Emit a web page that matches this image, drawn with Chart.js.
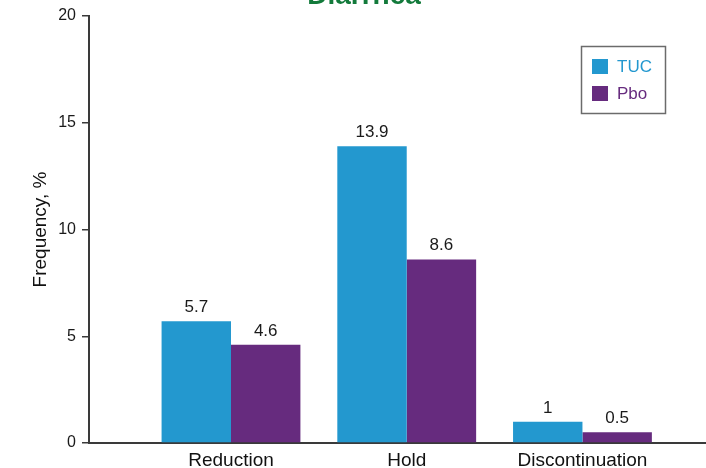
<!DOCTYPE html>
<html>
<head>
<meta charset="utf-8">
<script src="https://cdn.jsdelivr.net/npm/chart.js@4/dist/chart.umd.min.js"></script>
<style>
  html, body { margin: 0; padding: 0; background: #ffffff; }
  #wrap { width: 706px; height: 468px; position: relative; }
</style>
</head>
<body>
<div id="wrap"><canvas id="c" width="706" height="468"></canvas></div>
<script>
const chartTitle = 'Diarrhea';
const categories = ['Reduction', 'Hold', 'Discontinuation'];
const tucValues = [5.7, 13.9, 1];
const pboValues = [4.6, 8.6, 0.5];
const valueLabels = [['5.7', '13.9', '1'], ['4.6', '8.6', '0.5']];
const yTicks = [0, 5, 10, 15, 20];
const seriesNames = ['TUC', 'Pbo'];
const seriesColors = ['#2398cf', '#662b7e'];

const FONT = "'Liberation Sans', Arial, Helvetica, sans-serif";

const toXY = vals => vals.map((v, i) => ({ x: i, y: v }));

const overlayPlugin = {
  id: 'overlay',
  afterDatasetsDraw(chart) {
    const ctx = chart.ctx;
    ctx.save();
    // value labels
    ctx.font = '17px ' + FONT;
    ctx.fillStyle = '#1a1a1a';
    ctx.textAlign = 'center';
    ctx.textBaseline = 'alphabetic';
    chart.data.datasets.forEach((ds, di) => {
      const meta = chart.getDatasetMeta(di);
      meta.data.forEach((bar, i) => {
        ctx.fillText(valueLabels[di][i], bar.x, bar.y - 9);
      });
    });
    // title (cut at top)
    ctx.font = 'bold 28px ' + FONT;
    ctx.fillStyle = '#137a3b';
    ctx.textAlign = 'center';
    ctx.fillText(chartTitle, 364, 4);
    // legend
    const lx = 581, ly = 46, lw = 84, lh = 67;
    ctx.strokeStyle = '#6b6b6b';
    ctx.lineWidth = 1.5;
    ctx.strokeRect(lx + 0.5, ly + 0.5, lw, lh);
    ctx.font = '17px ' + FONT;
    ctx.textAlign = 'left';
    ctx.textBaseline = 'middle';
    seriesNames.forEach((n, i) => {
      const cy = 67 + i * 27;
      ctx.fillStyle = seriesColors[i];
      ctx.fillRect(592, cy - 8, 16, 15);
      ctx.fillText(n, 617, cy);
    });
    ctx.restore();
  }
};

new Chart(document.getElementById('c'), {
  type: 'bar',
  data: {
    datasets: [
      { label: seriesNames[0], data: toXY(tucValues), backgroundColor: seriesColors[0], borderWidth: 0 },
      { label: seriesNames[1], data: toXY(pboValues), backgroundColor: seriesColors[1], borderWidth: 0 }
    ]
  },
  options: {
    responsive: false,
    animation: false,
    devicePixelRatio: 1,
    layout: { padding: { top: 16, right: 0, left: 0, bottom: 0 } },
    datasets: { bar: { categoryPercentage: 0.79, barPercentage: 1 } },
    plugins: { legend: { display: false }, tooltip: { enabled: false }, title: { display: false } },
    scales: {
      x: {
        type: 'linear',
        offset: false,
        bounds: 'ticks',
        min: -0.808,
        max: 2.703,
        afterBuildTicks: s => { s.ticks = categories.map((c, i) => ({ value: i })); },
        afterFit: s => { s.height = 25; },
        grid: { display: false, drawTicks: false, offset: false },
        border: { display: true, color: '#3a3a3a', width: 2 },
        ticks: {
          autoSkip: false,
          maxRotation: 0,
          padding: 6,
          color: '#111',
          font: { family: FONT, size: 19 },
          callback: v => categories[v] ?? ''
        }
      },
      y: {
        min: 0,
        max: 20,
        afterBuildTicks: s => { s.ticks = yTicks.map(v => ({ value: v })); },
        afterFit: s => { s.width = 89; },
        grid: { display: true, drawOnChartArea: false, drawTicks: true, tickLength: 7, color: '#3a3a3a', lineWidth: 1.5 },
        border: { display: true, color: '#3a3a3a', width: 2 },
        ticks: { padding: 6, color: '#1a1a1a', font: { family: FONT, size: 16 } },
        title: {
          display: true,
          text: 'Frequency, %',
          color: '#111',
          font: { family: FONT, size: 19 },
          padding: { top: 29, bottom: 0 }
        }
      }
    }
  },
  plugins: [overlayPlugin]
});
</script>
</body>
</html>
